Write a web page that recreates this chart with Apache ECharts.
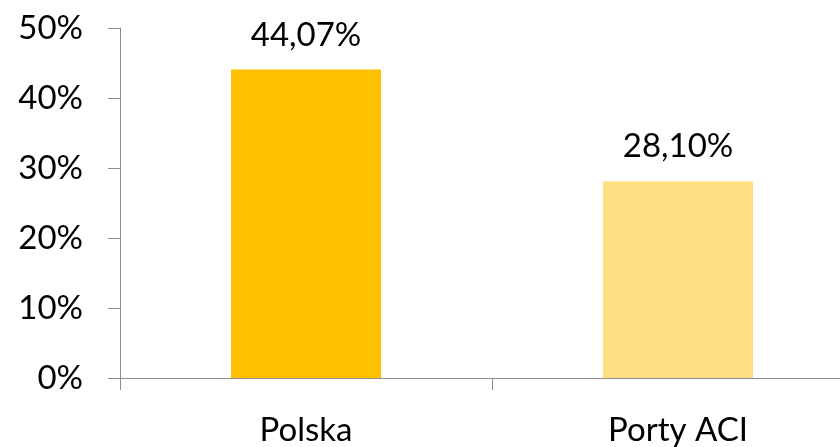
<!DOCTYPE html>
<html>
<head>
<meta charset="utf-8">
<script src="https://cdn.jsdelivr.net/npm/echarts@6/dist/echarts.min.js"></script>
<style>
  html, body { margin: 0; padding: 0; background: #fff; overflow: hidden; }
  /* oś kategorii wychodzi poza prawą krawędź, jak w oryginale */
  #chart { width: 864px; height: 447px; }
</style>
</head>
<body>
<div id="chart"></div>
<script>
// dane wykresu
const categories = ['Polska', 'Porty ACI']
const values = [44.07, 28.10]
const barColors = ['#FFC000', '#FFDF80']

const chart = echarts.init(document.getElementById('chart'))
const font = 'Lato, "Noto Sans", sans-serif'

chart.setOption({
  animation: false,
  grid: { left: 120, top: 28, right: 0, height: 353 },
  xAxis: {
    type: 'category',
    data: categories,
    axisLine: { lineStyle: { color: '#8c8c8c', width: 1 } },
    axisTick: { show: true, length: 12, lineStyle: { color: '#8c8c8c' } },
    axisLabel: { color: '#000', fontSize: 33, fontFamily: font, margin: 36 },
  },
  yAxis: {
    type: 'value',
    min: 0,
    max: 50,
    interval: 10,
    axisLine: { show: true, lineStyle: { color: '#8c8c8c', width: 1 } },
    axisTick: { show: true, length: 12, lineStyle: { color: '#8c8c8c' } },
    splitLine: { show: false },
    axisLabel: {
      color: '#000',
      fontSize: 33,
      fontFamily: font,
      margin: 37,
      formatter: (v) => v + '%',
    },
  },
  series: [{
    type: 'bar',
    barWidth: 150,
    data: values.map((v, i) => ({ value: v, itemStyle: { color: barColors[i] } })),
    label: {
      show: true,
      position: 'top',
      distance: 18,
      color: '#000',
      fontSize: 33,
      fontFamily: font,
      formatter: (p) => p.value.toFixed(2).replace('.', ',') + '%',
    },
  }],
})
</script>
</body>
</html>
